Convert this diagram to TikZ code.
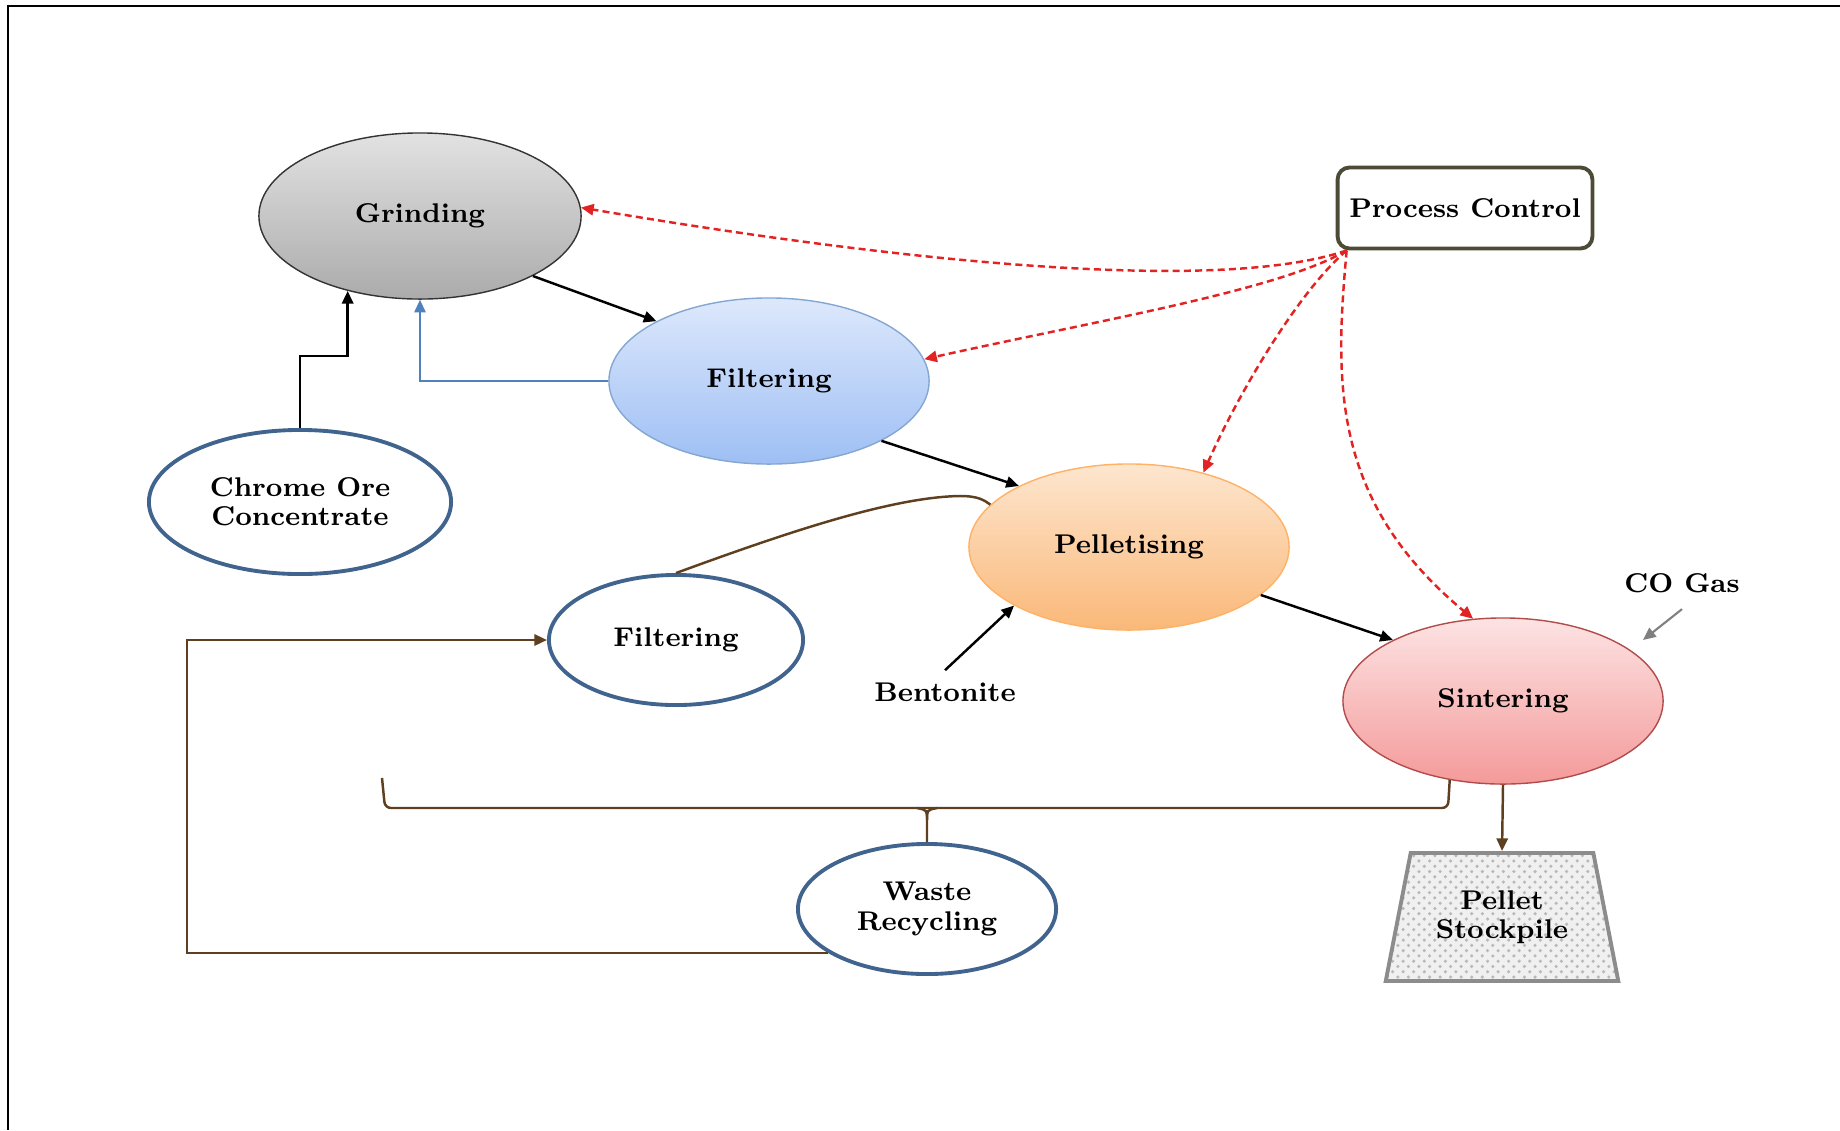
\documentclass[tikz,border=0pt]{standalone}
\usetikzlibrary{shapes.geometric,arrows.meta,patterns}

\definecolor{grindtop}{HTML}{E2E2E2}
\definecolor{grindbot}{HTML}{ABABAB}
\definecolor{filttop}{HTML}{DDE8FC}
\definecolor{filtbot}{HTML}{9EBFF4}
\definecolor{pelltop}{HTML}{FDE6CF}
\definecolor{pellbot}{HTML}{FAB878}
\definecolor{sinttop}{HTML}{FDE3E3}
\definecolor{sintbot}{HTML}{F49A9A}
\definecolor{oreblue}{HTML}{41648F}
\definecolor{feedblue}{HTML}{4F81BD}
\definecolor{ctrlred}{HTML}{E32222}
\definecolor{wastebrown}{HTML}{5E3F1F}
\definecolor{pcolive}{HTML}{4B4B36}
\definecolor{pilegray}{HTML}{8C8C8C}

\begin{document}
\begin{tikzpicture}[x=0.01cm, y=-0.01cm, >={Triangle[length=3.6pt,width=3.2pt]},
  every node/.style={font=\fontsize{7.7}{8.3}\selectfont\bfseries, align=center},
  stage/.style={ellipse, draw, line width=0.4pt, inner sep=0pt,
    minimum width=3.2cm, minimum height=1.66cm},
  source/.style={ellipse, draw=oreblue, line width=1.1pt, fill=white, inner sep=0pt},
  flow/.style={->, line width=0.7pt},
  ctrl/.style={->, ctrlred, line width=0.7pt, dash pattern=on 2pt off 1.2pt},
  wasteline/.style={wastebrown, line width=0.7pt}]

  \useasboundingbox (0,0) rectangle (1840,1130);

  % Frame
  \draw[line width=0.85pt] (8,1130) -- (8,6) -- (1840,6);

  % Stages
  \node[stage, draw=black!80, top color=grindtop, bottom color=grindbot,
    minimum width=3.22cm] (grind) at (420,216) {Grinding};
  \node[stage, draw=feedblue!70, top color=filttop, bottom color=filtbot] (filt) at (769,381) {Filtering};
  \node[stage, draw=orange!60, top color=pelltop, bottom color=pellbot] (pell) at (1129,547) {Pelletising};
  \node[stage, draw=red!40!gray, top color=sinttop, bottom color=sintbot] (sint) at (1503,701) {Sintering};

  \node[source, minimum width=3.02cm, minimum height=1.44cm] (ore) at (300,502) {Chrome Ore\\Concentrate};
  \node[source, minimum width=2.54cm, minimum height=1.3cm] (filt2) at (676,640) {Filtering};
  \node[source, minimum width=2.58cm, minimum height=1.3cm] (waste) at (927,909) {Waste\\Recycling};

  \node[draw=pcolive, line width=1.1pt, rounded corners=0.12cm, fill=white,
    minimum width=2.52cm, minimum height=0.81cm] (pc) at (1465,208) {Process Control};

  \node[trapezium, trapezium left angle=74.5, trapezium right angle=74.5,
    trapezium stretches=true, minimum width=2.33cm, minimum height=1.28cm,
    draw=pilegray, line width=1.1pt, preaction={fill=gray!12},
    pattern=crosshatch dots, pattern color=gray!55] (pile) at (1502,917) {Pellet\\Stockpile};

  \node (bent) at (945,692) {Bentonite};
  \node (co) at (1682,583) {CO Gas};

  % Main flow
  \draw[flow] (grind.-28) -- (filt.152);
  \draw[flow] (filt.-28) -- (pell.151);
  \draw[flow] (pell.-20) -- (sint.151);
  \draw[flow] (ore.north) -- ++(0,-72) -| (grind.226);
  \draw[flow, feedblue, line width=0.6pt] (filt.west) -| (grind.south);
  \draw[flow] (bent.north) -- (pell.207);

  % CO gas
  \coordinate (cotip) at (1643,640);
  \draw[->, gray, line width=0.6pt] ([yshift=-0.04cm]co.south) -- (cotip);

  % Process control signals
  \coordinate (pcfoot) at ([xshift=0.11cm]pc.south west);
  \draw[ctrl] (pcfoot) .. controls (1230,290) and (950,270) .. (grind.3);
  \draw[ctrl] (pcfoot) .. controls (1280,290) and (1100,320) .. (filt.8);
  \draw[ctrl] (pcfoot) .. controls (1300,290) and (1240,390) .. (pell.45);
  \draw[ctrl] (pcfoot) .. controls (1335,380) and (1330,500) .. (sint.110);

  % Waste loop
  \draw[wasteline] (filt2.north) .. controls (780,535) and (890,497) .. (960,496)
    .. controls (978,496) and (984,500) .. (pell.163);
  \coordinate (bracel) at (382,778);
  \draw[wasteline, rounded corners=0.06cm] (bracel) -- (385,808) -- (1448,808) -- (sint.236);
  \draw[wasteline] (waste.north) -- (927,820) .. controls (927,810) .. (917,808);
  \draw[wasteline] (927,820) .. controls (927,810) .. (937,808);
  \draw[wasteline, ->] (waste.204) -- ++(-641,0) |- (filt2.west);
  \draw[wasteline, ->] (sint.south) -- (pile.north);
\end{tikzpicture}
\end{document}
